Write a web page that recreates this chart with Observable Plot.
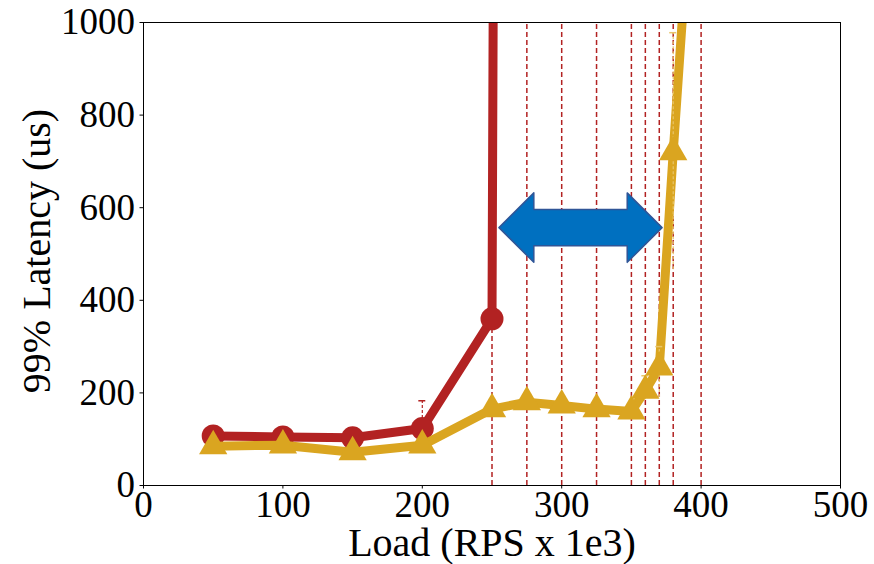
<!DOCTYPE html>
<html>
<head>
<meta charset="utf-8">
<script src="https://cdn.jsdelivr.net/npm/d3@7"></script>
<script src="https://cdn.jsdelivr.net/npm/@observablehq/plot@0.6"></script>
<style>
  html, body { margin: 0; padding: 0; background: #fff; }
  svg { display: block; }
</style>
</head>
<body>
<div id="chart"></div>
<script>
// Data
const redLoad = [50, 100, 150, 200, 250, 275];
const redLatency = [107, 105, 103, 123, 360, 20000];
const yellowLoad = [50, 100, 150, 200, 250, 275, 300, 325, 350, 360, 370, 380, 400];
const yellowLatency = [85, 87, 72, 87, 165, 180, 173, 165, 160, 205, 255, 720, 1600];
const dashedLoads = [250, 275, 300, 325, 350, 360, 370, 380, 400];
// error bars
const redErrLoad = [200];
const redErrLow = [123];
const redErrHigh = [183];
const yellowErrLoad = [360, 370, 380];
const yellowErrLow = [185, 190, 466];
const yellowErrHigh = [237, 300, 978];
// arrow annotation (data coordinates)
const arrowFrom = 255, arrowTo = 372, arrowAt = 557;
const xTicks = [0, 100, 200, 300, 400, 500];
const yTicks = [0, 200, 400, 600, 800, 1000];

const RED = "#b22222", GOLD = "#daa520";
const red = redLoad.map((x, i) => ({x, y: redLatency[i]}));
const gold = yellowLoad.map((x, i) => ({x, y: yellowLatency[i]}));
const redErr = redErrLoad.map((x, i) => ({x, lo: redErrLow[i], hi: redErrHigh[i]}));
const goldErr = yellowErrLoad.map((x, i) => ({x, lo: yellowErrLow[i], hi: yellowErrHigh[i]}));

// double-headed arrow polygon
const hl = 25, hh = 75, sh = 39;
const arrow = [
  [arrowFrom, arrowAt],
  [arrowFrom + hl, arrowAt + hh],
  [arrowFrom + hl, arrowAt + sh],
  [arrowTo - hl, arrowAt + sh],
  [arrowTo - hl, arrowAt + hh],
  [arrowTo, arrowAt],
  [arrowTo - hl, arrowAt - hh],
  [arrowTo - hl, arrowAt - sh],
  [arrowFrom + hl, arrowAt - sh],
  [arrowFrom + hl, arrowAt - hh],
  [arrowFrom, arrowAt]
].map(([x, y]) => ({x, y}));

const FONT = "Liberation Serif, Times New Roman, serif";

const chart = Plot.plot({
  width: 874,
  height: 564,
  marginLeft: 143,
  marginRight: 34,
  marginTop: 22,
  marginBottom: 79,
  style: {fontFamily: FONT, fontSize: "37px", color: "black", background: "white"},
  x: {domain: [0, 500]},
  y: {domain: [0, 1000]},
  marks: [
    Plot.ruleX(dashedLoads, {x: d => d, y1: 0, y2: 1000, stroke: RED, strokeWidth: 1.5, strokeDasharray: "5,3"}),
    Plot.line(red, {x: "x", y: "y", stroke: RED, strokeWidth: 9, clip: true}),
    Plot.ruleX(redErr, {x: "x", y1: "lo", y2: "hi", stroke: RED, strokeWidth: 1.2, strokeDasharray: "3,2"}),
    Plot.ruleY(redErr, {y: "hi", x1: d => d.x - 2.5, x2: d => d.x + 2.5, stroke: RED, strokeWidth: 1.5}),
    Plot.dot(red.filter(d => d.y <= 1000), {x: "x", y: "y", r: 11.5, fill: RED, symbol: "circle"}),
    Plot.line(gold, {x: "x", y: "y", stroke: GOLD, strokeWidth: 9, clip: true}),
    Plot.ruleX(goldErr, {x: "x", y1: "lo", y2: "hi", stroke: "#e8c56a", strokeWidth: 1.2, strokeDasharray: "3,2"}),
    Plot.ruleY(goldErr, {y: "hi", x1: d => d.x - 2.5, x2: d => d.x + 2.5, stroke: "#e8c56a", strokeWidth: 1.5}),
    Plot.dot(gold.filter(d => d.y <= 1000), {x: "x", y: "y", r: 10.5, fill: GOLD, symbol: "triangle"}),
    Plot.line(arrow, {x: "x", y: "y", fill: "#0070c0", stroke: "#2f5597", strokeWidth: 1.5}),
    Plot.frame({stroke: "black", strokeWidth: 1}),
    Plot.axisX({ticks: xTicks, tickFormat: d => String(d), tickSize: 3.5, tickPadding: 2, fontSize: 37, fontFamily: FONT, label: null}),
    Plot.axisY({ticks: yTicks, tickFormat: d => String(d), tickSize: 3.5, tickPadding: 5, fontSize: 37, fontFamily: FONT, label: null}),
    Plot.text(["Load (RPS x 1e3)"], {frameAnchor: "bottom", dy: 58, lineAnchor: "middle", textAnchor: "middle", fontSize: 40, fontFamily: FONT, fill: "black"}),
    Plot.text(["99% Latency (us)"], {frameAnchor: "left", dx: -106, dy: -3, rotate: -90, textAnchor: "middle", lineAnchor: "middle", fontSize: 40, fontFamily: FONT, fill: "black"})
  ]
});
document.getElementById("chart").appendChild(chart);
</script>
</body>
</html>
